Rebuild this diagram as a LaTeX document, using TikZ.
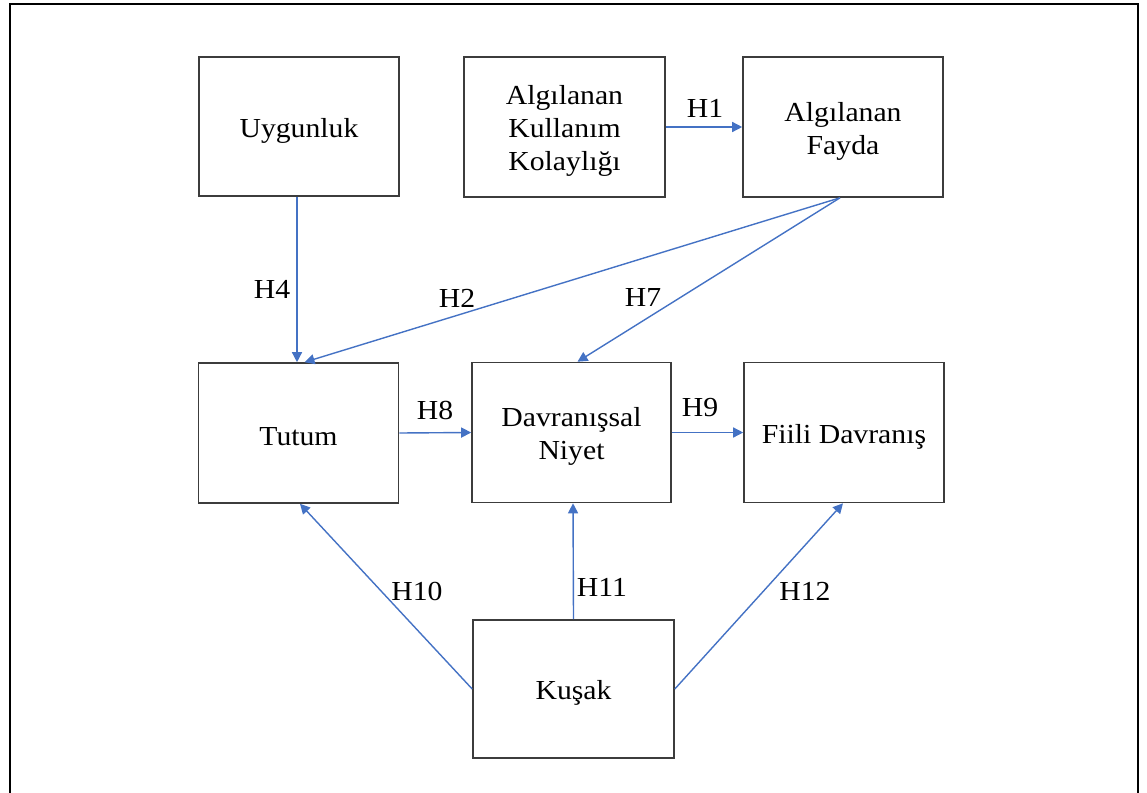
\documentclass[tikz,border=0pt]{standalone}
\usepackage{fontspec}
\setmainfont{Liberation Serif}[FakeStretch=1.08]
\usetikzlibrary{arrows.meta,calc}
\definecolor{boxgray}{HTML}{3C3C3C}
\definecolor{arrblue}{HTML}{4472C4}
\begin{document}
\begin{tikzpicture}[x=1pt,y=-1pt,
  box/.style={draw=boxgray, line width=1.6pt, minimum width=200pt, minimum height=139pt, inner sep=0pt},
  txt/.style={align=center, font=\fontsize{27.5}{33}\selectfont, inner sep=0pt, yshift=-4pt},
  arr/.style={draw=arrblue, line width=1.4pt, -{Triangle[length=10pt,width=10pt]}},
  lab/.style={font=\fontsize{27.5}{33}\selectfont, inner sep=0pt}]
\useasboundingbox (0,0) rectangle (1147,792);
\draw[line width=2pt, black] (10,800) -- (10,4.5) -- (1138,4.5) -- (1138,800);

\node[box, label={[txt]center:Uygunluk}] (uyg) at (299,126.5) {};
\node[box, minimum width=201pt, minimum height=140pt, label={[txt]center:Algılanan\\Kullanım\\Kolaylığı}] (akk) at (564.5,127) {};
\node[box, minimum height=140pt, label={[txt]center:Algılanan\\Fayda}] (af) at (843,127) {};
\node[box, minimum height=140pt, label={[txt]center:Tutum}] (tut) at (298.5,433) {};
\node[box, minimum width=199pt, minimum height=140pt, label={[txt]center:Davranışsal\\Niyet}] (dn) at (571.5,432.5) {};
\node[box, minimum height=140pt, label={[txt]center:Fiili Davranış}] (fd) at (844,432.5) {};
\node[box, minimum width=201pt, minimum height=138pt, label={[txt]center:Kuşak}] (kus) at (573.5,689) {};

\draw[arr] (akk.east) -- (af.west);
\draw[arr] ($(uyg.south)+(-2,0)$) -- ($(tut.north)+(-1.5,0)$);
\draw[arr] ($(af.south)+(-3,0)$) -- ($(tut.north)+(6,0)$);
\draw[arr] ($(af.south)+(-3,0)$) -- ($(dn.north)+(6,0)$);
\draw[arr] (tut.east) -- (dn.west);
\draw[arr] (dn.east) -- (fd.west);
\draw[arr] (kus.west) -- ($(tut.south)+(1.5,0)$);
\draw[arr] (kus.north) -- ($(dn.south)+(1.5,0)$);
\draw[arr] (kus.east) -- ($(fd.south)+(-1,0)$);

\node[lab] (h1) at (705,108) {H1};
\node[lab] (h4) at (272,289) {H4};
\node[lab] (h2) at (457,298) {H2};
\node[lab] (h7) at (643,297) {H7};
\node[lab] (h8) at (435,410) {H8};
\node[lab] (h9) at (700,408) {H9};
\node[lab] (h10) at (417,591) {H10};
\node[lab] (h11) at (602,587) {H11};
\node[lab] (h12) at (805,591) {H12};
\end{tikzpicture}
\end{document}
